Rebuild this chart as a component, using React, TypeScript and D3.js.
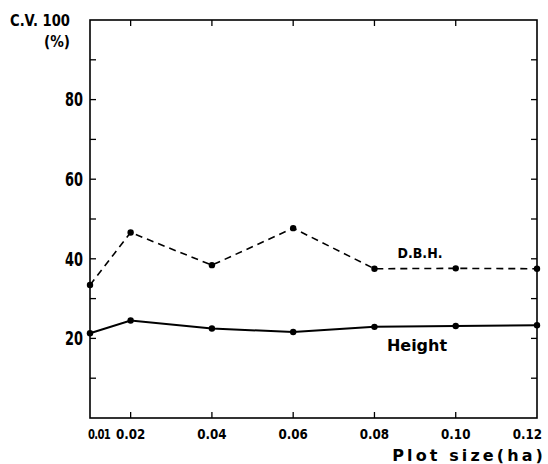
import React from 'react';
import * as d3 from 'd3';

const plotSizes = [0.01, 0.02, 0.04, 0.06, 0.08, 0.1, 0.12];
const dbhValues = [33.4, 46.6, 38.4, 47.7, 37.5, 37.6, 37.5];
const heightValues = [21.3, 24.5, 22.5, 21.6, 22.9, 23.1, 23.3];
const xTickLabels = ['0.01', '0.02', '0.04', '0.06', '0.08', '0.10', '0.12'];
const yTickValues = [20, 40, 60, 80];
const yMinorTicks = [10, 20, 30, 40, 50, 60, 70, 80, 90];

const W = 548;
const H = 464;
const margin = { top: 20, right: 11, bottom: 46, left: 90 };

const font = '"DejaVu Sans", sans-serif';

// text squeezed horizontally, to look like the narrow typeface of the original
type TProps = {
  x: number;
  y: number;
  sx?: number;
  anchor?: 'start' | 'middle' | 'end';
  size: number;
  weight?: string | number;
  spacing?: number;
  children: React.ReactNode;
};
const T: React.FC<TProps> = ({ x, y, sx = 1, anchor = 'start', size, weight = 'bold', spacing = 0, children }) => (
  <text
    transform={`translate(${x},${y}) scale(${sx},1)`}
    dy="0.36em"
    textAnchor={anchor}
    fontSize={size}
    fontWeight={weight}
    letterSpacing={spacing}
  >
    {children}
  </text>
);

const App: React.FC = () => {
  const x = d3
    .scaleLinear()
    .domain([0.01, 0.12])
    .range([margin.left, W - margin.right]);
  const y = d3
    .scaleLinear()
    .domain([0, 100])
    .range([H - margin.bottom, margin.top]);

  const line = d3
    .line<number>()
    .x((_, i) => x(plotSizes[i]))
    .y((d) => y(d));

  const x0 = x.range()[0];
  const x1 = x.range()[1];
  const yb = y.range()[0];
  const yt = y.range()[1];
  const tick = 6;

  return (
    <svg
      width={W}
      height={H}
      style={{ position: 'absolute', left: 0, top: 0, background: '#fff' }}
      fontFamily={font}
    >
      {/* frame */}
      <rect x={x0} y={yt} width={x1 - x0} height={yb - yt} fill="none" stroke="#000" strokeWidth={1.6} />

      {/* y ticks, both sides, inward */}
      {yMinorTicks.map((v) => (
        <g key={'yt' + v} stroke="#000" strokeWidth={1.3}>
          <line x1={x0} x2={x0 + tick} y1={y(v)} y2={y(v)} />
          <line x1={x1} x2={x1 - tick} y1={y(v)} y2={y(v)} />
        </g>
      ))}

      {/* x ticks, top and bottom, inward */}
      {plotSizes.slice(1, -1).map((v) => (
        <g key={'xt' + v} stroke="#000" strokeWidth={1.3}>
          <line x1={x(v)} x2={x(v)} y1={yb} y2={yb - tick} />
          <line x1={x(v)} x2={x(v)} y1={yt} y2={yt + tick} />
        </g>
      ))}

      {/* y tick labels */}
      {yTickValues.map((v) => (
        <T key={'yl' + v} x={x0 - 7} y={y(v)} anchor="end" size={19} sx={0.68}>
          {v}
        </T>
      ))}
      <T x={70} y={yt} anchor="end" size={16} sx={0.82} weight={600}>
        C.V. 100
      </T>
      <T x={70} y={yt + 21} anchor="end" size={16} sx={0.85} weight={600}>
        (%)
      </T>

      {/* x tick labels */}
      {plotSizes.map((v, i) => {
        const last = plotSizes.length - 1;
        if (i === 0) {
          return (
            <T key={'xl' + v} x={x(v) - 2} y={yb + 16} size={14} sx={0.72} weight={600} spacing={-1}>
              {xTickLabels[i]}
            </T>
          );
        }
        const anchor = i === last ? 'end' : 'middle';
        const px = i === last ? x(v) + 5 : x(v);
        return (
          <T key={'xl' + v} x={px} y={yb + 16} anchor={anchor} size={14} sx={0.85} weight={600}>
            {xTickLabels[i]}
          </T>
        );
      })}
      <T x={546} y={455} anchor="end" size={16} weight={600} spacing={3.1}>
        Plot size(ha)
      </T>

      {/* series */}
      <path d={line(dbhValues) ?? ''} fill="none" stroke="#000" strokeWidth={1.6} strokeDasharray="7,5" />
      <path d={line(heightValues) ?? ''} fill="none" stroke="#000" strokeWidth={2} />
      {dbhValues.map((v, i) => (
        <circle key={'d' + i} cx={x(plotSizes[i])} cy={y(v)} r={3.2} fill="#000" />
      ))}
      {heightValues.map((v, i) => (
        <circle key={'h' + i} cx={x(plotSizes[i])} cy={y(v)} r={3.2} fill="#000" />
      ))}

      <T x={420} y={253} anchor="middle" size={14} sx={0.9}>
        D.B.H.
      </T>
      <T x={417} y={345} anchor="middle" size={16}>
        Height
      </T>
    </svg>
  );
};

export default App;
